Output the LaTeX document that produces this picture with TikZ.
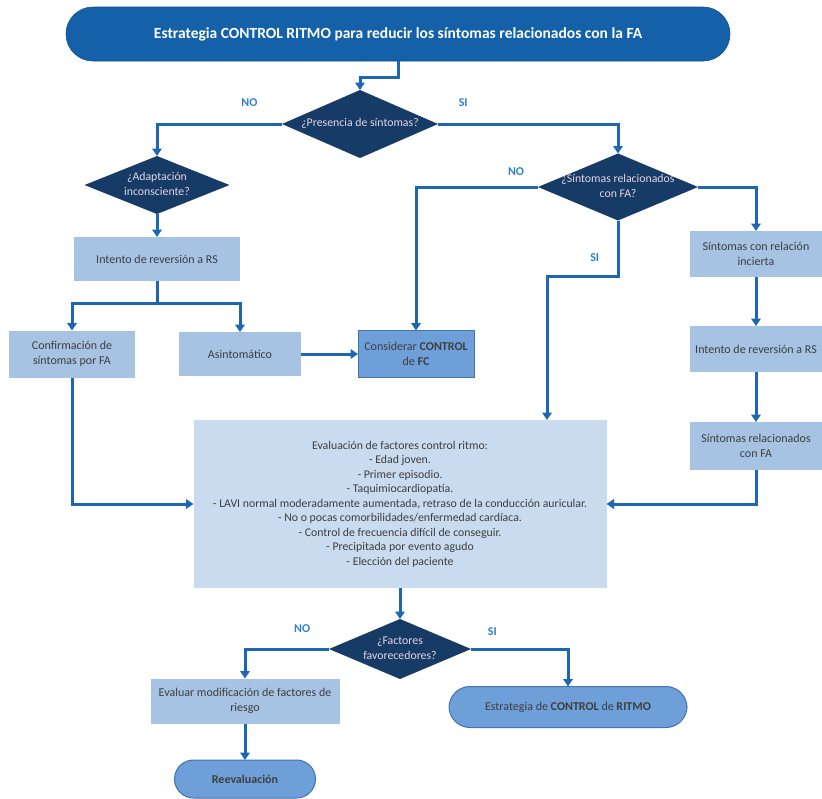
\documentclass[tikz,border=0pt]{standalone}
\usepackage{fontspec}
\setmainfont{Carlito}
\usetikzlibrary{arrows.meta, shapes.geometric}
\definecolor{ctitle}{HTML}{1461A9}
\definecolor{cnavy}{HTML}{163B66}
\definecolor{cbox}{HTML}{A6C3E4}
\definecolor{ceval}{HTML}{C9DBEF}
\definecolor{cmid}{HTML}{6E9FD8}
\definecolor{cmidline}{HTML}{3F73B4}
\definecolor{cline}{HTML}{1D66B4}
\definecolor{ctext}{HTML}{3E3E3E}
\definecolor{cdtext}{HTML}{E6D4E4}
\definecolor{clabel}{HTML}{2F80CC}
\newcommand{\dtxt}[1]{\makebox[0pt]{\smash{\raisebox{-0.25em}{\begin{tabular}{@{}c@{}}#1\end{tabular}}}}}
\tikzset{
  every picture/.style={x=1pt, y=-1pt, line width=3pt},
  box/.style={fill=#1, text=ctext, align=center, inner sep=2pt, outer sep=0pt,
    font=\fontsize{12}{15.5}\selectfont},
  box/.default=cbox,
  ask/.style={diamond, fill=cnavy, text=cdtext, inner sep=0pt, outer sep=0pt,
    font=\fontsize{11.8}{15}\selectfont},
  endpill/.style={fill=cmid, draw=cmidline, line width=1pt, rounded corners=#1,
    text=ctext, align=center, outer sep=0pt, font=\fontsize{12}{15}\selectfont},
  arrow/.style={-{Triangle[length=7.5pt, width=9.5pt]}, draw=cline},
  lbl/.style={font=\bfseries\fontsize{12}{14}\selectfont, text=clabel},
}
\begin{document}
\begin{tikzpicture}
  \useasboundingbox (0,0) rectangle (822,798);
  \node[fill=ctitle, draw=ctitle!80!black, line width=0.6pt, rounded corners=27pt,
    minimum width=664pt, minimum height=54pt, outer sep=0pt, text=white,
    font=\bfseries\fontsize{15.5}{18}\selectfont] (title) at (398,34)
    {Estrategia CONTROL RITMO para reducir los síntomas relacionados con la FA};
  % decision diamonds
  \foreach \n/\x/\y/\w/\h/\t in {
    q1/360/124/156/68/{¿Presencia de síntomas?},
    q2/157/185/145/58/{¿Adaptación\\inconsciente?},
    q3/618/187/160/67/{¿Síntomas relacionados\\con FA?},
    q4/400/649/142/60/{¿Factores\\favorecedores?}} {
    \node[ask, minimum width=\w pt, minimum height=\h pt] (\n) at (\x,\y) {\dtxt{\t}};
  }
  % plain steps
  \foreach \n/\x/\y/\w/\h/\t in {
    rev1/157/259/166/44/{Intento de reversión a RS},
    conf/72/354/126/47/{Confirmación de\\síntomas por FA},
    asin/240/354/122/44/{Asintomático},
    inc/756/254/132/46/{Síntomas con relación\\incierta},
    rev2/756/349/132/46/{Intento de reversión a RS},
    rel/756/446/132/48/{Síntomas relacionados\\con FA},
    mod/245/701/189/45/{Evaluar modificación de factores de\\riesgo}} {
    \node[box, minimum width=\w pt, minimum height=\h pt] (\n) at (\x,\y) {\t};
  }
  \node[box=cmid, draw=cmidline, line width=1pt, minimum width=116pt, minimum height=47pt]
    (fc) at (416,354) {Considerar \textbf{CONTROL}\\de \textbf{FC}};
  \node[box=ceval, minimum width=413pt, minimum height=168pt,
    font=\fontsize{11.8}{14.5}\selectfont] (eval) at (400,504)
    {Evaluación de factores control ritmo:\\
     - Edad joven.\\
     - Primer episodio.\\
     - Taquimiocardiopatía.\\
     - LAVI normal moderadamente aumentada, retraso de la conducción auricular.\\
     - No o pocas comorbilidades/enfermedad cardíaca.\\
     - Control de frecuencia difícil de conseguir.\\
     - Precipitada por evento agudo\\
     - Elección del paciente};
  \node[endpill=19pt, minimum width=141pt, minimum height=38pt] (reev) at (245,779)
    {\textbf{Reevaluación}};
  \node[endpill=21pt, minimum width=238pt, minimum height=41pt] (estr) at (568,707)
    {Estrategia de \textbf{CONTROL} de \textbf{RITMO}};
  \coordinate (evin) at (547,420);
  % connectors
  \draw[arrow] (title.south) -- ++(0,16) -| (q1.north);
  \draw[arrow] (q1.west) -| node[lbl, pos=0.13, above=12.5pt] {NO} (q2.north);
  \draw[arrow] (q1.east) -| node[lbl, pos=0.07, above=12.5pt] {SI} (q3.north);
  \draw[arrow] (q2.south) -- (rev1.north);
  \draw[arrow] (rev1.south) -- ++(0,22) -| (conf.north);
  \draw[arrow] (rev1.south) -- ++(0,22) -| (asin.north);
  \draw[arrow] (asin.east) -- (fc.west);
  \draw[arrow] (q3.west) -| node[lbl, pos=0.09, above=6.5pt] {NO} (fc.north);
  \draw[arrow] (q3.south) -- node[lbl, pos=0.66, left=14pt] {SI} ++(0,56) -| (evin);
  \draw[arrow] (q3.east) -| (inc.north);
  \draw[arrow] (inc.south) -- (rev2.north);
  \draw[arrow] (rev2.south) -- (rel.north);
  \draw[arrow] (rel.south) |- (eval.east);
  \draw[arrow] (conf.south) |- (eval.west);
  \draw[arrow] (eval.south) -- (q4.north);
  \draw[arrow] (q4.west) -| node[lbl, pos=0.16, above=11.5pt] {NO} (mod.north);
  \draw[arrow] (q4.east) -| node[lbl, pos=0.11, above=8.5pt] {SI} (estr.north);
  \draw[arrow] (mod.south) -- (reev.north);
\end{tikzpicture}
\end{document}
